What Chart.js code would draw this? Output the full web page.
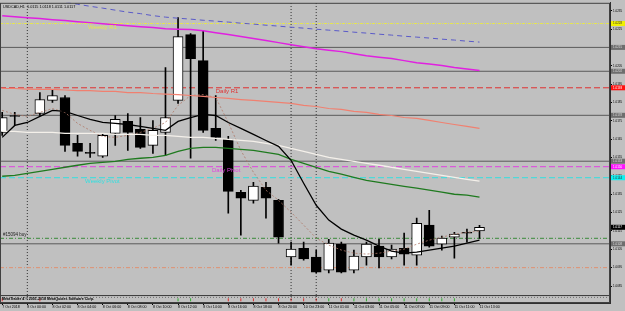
<!DOCTYPE html>
<html>
<head>
<meta charset="utf-8">
<script src="https://cdn.jsdelivr.net/npm/chart.js@4.4.1/dist/chart.umd.min.js"></script>
<style>
	html, body { margin: 0; padding: 0; background: #c0c0c0; overflow: hidden; }
</style>
</head>
<body>
<canvas id="chart" width="625" height="311"></canvas>
<script>
// Hourly bars, index 2 has no bar
const candleIdx = [0, 1, 3, 4, 5, 6, 7, 8, 9, 10, 11, 12, 13, 14, 15, 16, 17, 18, 19, 20, 21, 22, 23, 24, 25, 26, 27, 28, 29, 30, 31, 32, 33, 34, 35, 36, 37, 38];
const opens = [1.01687, 1.01779, 1.01790, 1.01861, 1.01877, 1.01627, 1.01578, 1.01557, 1.01682, 1.01747, 1.01703, 1.01616, 1.01687, 1.01861, 1.02220, 1.02078, 1.01709, 1.01649, 1.01361, 1.01317, 1.01388, 1.01317, 1.01008, 1.01056, 1.01008, 1.00937, 1.01078, 1.00937, 1.01008, 1.01067, 1.01008, 1.01056, 1.01018, 1.01182, 1.01078, 1.01116, 1.01143, 1.0115];
const highs = [1.01796, 1.01796, 1.01904, 1.01921, 1.01888, 1.01671, 1.01627, 1.01676, 1.01779, 1.01790, 1.01768, 1.01752, 1.02040, 1.02312, 1.02225, 1.02241, 1.01888, 1.01665, 1.01372, 1.01415, 1.01415, 1.01323, 1.01089, 1.01089, 1.01046, 1.01105, 1.01089, 1.01046, 1.01089, 1.01105, 1.01073, 1.01138, 1.01220, 1.01263, 1.01122, 1.01143, 1.01160, 1.0118];
const lows = [1.01671, 1.01725, 1.01779, 1.01850, 1.01584, 1.01557, 1.01551, 1.01551, 1.01616, 1.01589, 1.01600, 1.01573, 1.01562, 1.01845, 1.01546, 1.01687, 1.01643, 1.01247, 1.01127, 1.01301, 1.01220, 1.01084, 1.00964, 1.00991, 1.00921, 1.00921, 1.00921, 1.00921, 1.00964, 1.00948, 1.00997, 1.00964, 1.00964, 1.01062, 1.01046, 1.01002, 1.01089, 1.0111];
const closes = [1.01768, 1.01774, 1.01866, 1.01888, 1.01616, 1.01584, 1.01573, 1.01671, 1.01758, 1.01687, 1.01605, 1.01698, 1.01768, 1.02209, 1.02089, 1.01698, 1.01660, 1.01366, 1.01328, 1.01394, 1.01328, 1.01116, 1.01051, 1.00997, 1.00926, 1.01084, 1.00926, 1.01013, 1.01078, 1.01008, 1.01051, 1.01024, 1.01192, 1.01067, 1.01111, 1.01133, 1.01138, 1.0117];

// Indicator lines, one value per bar index 0..38
const maIdx = [0, 1, 2, 3, 4, 5, 6, 7, 8, 9, 10, 11, 12, 13, 14, 15, 16, 17, 18, 19, 20, 21, 22, 23, 24, 25, 26, 27, 28, 29, 30, 31, 32, 33, 34, 35, 36, 37, 38];
const maFast = [1.01660, 1.01725, 1.01741, 1.01774, 1.01807, 1.01801, 1.01779, 1.01758, 1.01741, 1.01736, 1.01730, 1.01720, 1.01709, 1.01698, 1.01747, 1.01768, 1.01785, 1.01779, 1.01741, 1.01709, 1.01676, 1.01643, 1.01611, 1.01535, 1.01410, 1.01290, 1.01209, 1.01160, 1.01127, 1.01100, 1.01067, 1.01040, 1.01029, 1.01035, 1.01046, 1.01056, 1.01067, 1.01084, 1.01100];
const maGreen = [1.01448, 1.01453, 1.01464, 1.01475, 1.01486, 1.01497, 1.01508, 1.01518, 1.01524, 1.01529, 1.01540, 1.01546, 1.01551, 1.01562, 1.01584, 1.01600, 1.01605, 1.01605, 1.01600, 1.01595, 1.01589, 1.01578, 1.01567, 1.01540, 1.01518, 1.01497, 1.01475, 1.01459, 1.01442, 1.01426, 1.01415, 1.01404, 1.01393, 1.01383, 1.01372, 1.01361, 1.01350, 1.01345, 1.01334];
const maWhite = [1.01692, 1.01692, 1.01687, 1.01687, 1.01687, 1.01682, 1.01682, 1.01682, 1.01682, 1.01676, 1.01676, 1.01676, 1.01671, 1.01671, 1.01665, 1.01660, 1.01660, 1.01654, 1.01649, 1.01643, 1.01638, 1.01627, 1.01616, 1.01600, 1.01584, 1.01567, 1.01551, 1.01540, 1.01529, 1.01518, 1.01508, 1.01497, 1.01486, 1.01475, 1.01464, 1.01453, 1.01442, 1.01431, 1.01421];
const maSalmon = [1.01926, 1.01926, 1.01923, 1.01921, 1.01921, 1.01918, 1.01915, 1.01915, 1.01910, 1.01910, 1.01904, 1.01904, 1.01899, 1.01896, 1.01893, 1.01888, 1.01883, 1.01877, 1.01872, 1.01866, 1.01861, 1.01856, 1.01850, 1.01845, 1.01834, 1.01828, 1.01817, 1.01812, 1.01801, 1.01796, 1.01785, 1.01779, 1.01768, 1.01763, 1.01752, 1.01741, 1.01730, 1.01720, 1.01709];
const maMagenta = [1.02323, 1.02317, 1.02312, 1.02307, 1.02301, 1.02296, 1.02290, 1.02285, 1.02279, 1.02274, 1.02268, 1.02263, 1.02258, 1.02252, 1.02249, 1.02247, 1.02241, 1.02230, 1.02220, 1.02209, 1.02198, 1.02187, 1.02176, 1.02165, 1.02154, 1.02143, 1.02135, 1.02127, 1.02116, 1.02105, 1.02097, 1.02089, 1.02078, 1.02067, 1.02059, 1.02051, 1.02040, 1.02032, 1.02024];
const maBlue = [null, null, null, 1.02432, 1.02410, 1.02399, 1.02385, 1.02374, 1.02364, 1.02353, 1.02342, 1.02334, 1.02323, 1.02315, 1.02309, 1.02304, 1.02298, 1.02293, 1.02288, 1.02282, 1.02277, 1.02271, 1.02266, 1.02260, 1.02255, 1.02249, 1.02244, 1.02239, 1.02233, 1.02228, 1.02222, 1.02217, 1.02211, 1.02206, 1.02201, 1.02195, 1.02190, 1.02184, 1.02179];
const maDotted = [1.01807, 1.01785, 1.01774, 1.01796, 1.01817, 1.01796, 1.01736, 1.01698, 1.01665, 1.01660, 1.01671, 1.01687, 1.01709, 1.01741, 1.01834, 1.01888, 1.01893, 1.01877, 1.01741, 1.01589, 1.01470, 1.01372, 1.01317, 1.01252, 1.01182, 1.01111, 1.01073, 1.01046, 1.01029, 1.01024, 1.01029, 1.01040, 1.01051, 1.01078, 1.01100, 1.01116, 1.01133, 1.01143, 1.01149];

// Pivot levels and drawn lines
const pivotNames = ["Weekly R1", "Daily R1", "Daily Pivot", "Weekly Pivot"];
const pivotPrices = [1.0228, 1.0193, 1.0150, 1.0144];
const greyLevels = [1.0215, 1.0202, 1.0178, 1.0153, 1.0108];
const orderLabel = "#15094 buy";
const orderPrice = 1.0111;
const stopPrice = 1.0095;
const lastPrice = 1.0117;

// Axis ticks
const priceTicks = [1.0085, 1.0095, 1.0105, 1.0115, 1.0125, 1.0135, 1.0145, 1.0155, 1.0165, 1.0175, 1.0185, 1.0195, 1.0205, 1.0215, 1.0225, 1.0235];
const timeTickIdx = [0, 2, 4, 6, 8, 10, 12, 14, 16, 18, 20, 22, 24, 26, 28, 30, 32, 34, 36, 38];
const timeTickText = ["7 Oct 2018", "8 Oct 00:00", "8 Oct 02:00", "8 Oct 04:00", "8 Oct 06:00", "8 Oct 08:00", "8 Oct 10:00", "8 Oct 12:00", "8 Oct 14:00", "8 Oct 16:00", "8 Oct 18:00", "8 Oct 20:00", "10 Oct 23:00", "11 Oct 01:00", "11 Oct 03:00", "11 Oct 05:00", "11 Oct 07:00", "11 Oct 09:00", "11 Oct 11:00", "11 Oct 13:00"];
const daySepIdx = [2, 23, 25];

// Lower indicator window marks
const subDownIdx = [0, 3, 18, 19, 20, 21, 22, 23, 24, 25, 27];
const subUpIdx = [14, 15, 26, 28, 29, 30, 31, 32, 33, 34, 35, 36];

const titleText = "USDCAD,H1  1.0115 1.0118 1.0111 1.0117";
const copyText = "MetaTrader 4 \u00a9 2001-2018 MetaQuotes Software Corp.";

const X_MIN = -0.175, X_MAX = 48.39;
const Y_MIN = 1.00801, Y_MAX = 1.02393;
const FONT = "Liberation Sans";

function line(vals, color, width, dash, order) {
	return {
		type: "line",
		data: maIdx.map((x, k) => ({ x: x, y: vals[k] })),
		borderColor: color,
		borderWidth: width,
		borderDash: dash,
		pointRadius: 0,
		tension: 0,
		order: order,
	};
}

function hline(price, color, width, dash, order) {
	return {
		type: "line",
		data: [{ x: X_MIN, y: price }, { x: X_MAX, y: price }],
		borderColor: color,
		borderWidth: width,
		borderDash: dash,
		pointRadius: 0,
		order: order,
	};
}

function sepData(lo, hi) {
	let d = [];
	daySepIdx.forEach((x) => {
		d.push({ x: x, y: lo }, { x: x, y: hi }, { x: x, y: null });
	});
	return d;
}

const pivotColors = ["#e6e650", "#e03030", "#e040e0", "#30e0e0"];
const pivotDash = [[3, 1, 1, 1], [6, 3], [6, 3], [6, 3]];

const datasets = [];
// Moving averages on top
datasets.push(line(maFast, "#000000", 1.3, [], 1));
datasets.push(line(maGreen, "#1f7a1f", 1.3, [], 2));
datasets.push(line(maWhite, "#f4f0ea", 1.3, [], 3));
datasets.push(line(maSalmon, "#f08070", 1.2, [], 4));
datasets.push(line(maMagenta, "#e020e0", 1.5, [], 5));
datasets.push(line(maBlue, "#5a5ac8", 1, [5, 4], 6));
datasets.push(line(maDotted, "#b07868", 0.8, [2, 2], 7));

// Candles
datasets.push({
	type: "bar",
	data: candleIdx.map((x, k) => ({ x: x, y: [opens[k], closes[k]] })),
	backgroundColor: candleIdx.map((x, k) => (closes[k] >= opens[k] ? "#ffffff" : "#000000")),
	borderColor: "#000000",
	borderWidth: 1,
	borderSkipped: false,
	barThickness: 10,
	grouped: false,
	order: 10,
});
datasets.push({
	type: "bar",
	data: candleIdx.map((x, k) => ({ x: x, y: [lows[k], highs[k]] })),
	backgroundColor: "#000000",
	borderWidth: 0,
	barThickness: 1,
	grouped: false,
	order: 11,
});

// Levels
greyLevels.forEach((p) => datasets.push(hline(p, "#5a5a5a", 1, [], 20)));
pivotPrices.forEach((p, k) => datasets.push(hline(p, pivotColors[k], 1, pivotDash[k], 21)));
datasets.push(hline(orderPrice, "#3a8a3a", 1, [4, 2, 1, 2], 22));
datasets.push(hline(stopPrice, "#e09070", 1, [4, 2, 1, 2], 22));

// Day separators
datasets.push({
	type: "line",
	data: sepData(Y_MIN, Y_MAX),
	borderColor: "#303030",
	borderWidth: 1,
	borderDash: [1, 2],
	pointRadius: 0,
	spanGaps: false,
	order: 30,
});
datasets.push({
	type: "line",
	yAxisID: "y2",
	data: sepData(0, 1),
	borderColor: "#303030",
	borderWidth: 1,
	borderDash: [1, 2],
	pointRadius: 0,
	spanGaps: false,
	order: 30,
});

// Lower window
datasets.push({
	type: "line",
	yAxisID: "y2",
	data: [{ x: X_MIN, y: 0.7 }, { x: X_MAX, y: 0.7 }],
	borderColor: "#707070",
	borderWidth: 1,
	borderDash: [1, 2],
	pointRadius: 0,
	order: 31,
});
datasets.push({
	type: "line",
	yAxisID: "y2",
	showLine: false,
	data: subDownIdx.map((x) => ({ x: x, y: 0.4 })),
	pointStyle: "line",
	rotation: 90,
	pointRadius: 1.5,
	borderColor: "#e03030",
	borderWidth: 1,
	order: 32,
});
datasets.push({
	type: "line",
	yAxisID: "y2",
	showLine: false,
	data: subUpIdx.map((x) => ({ x: x, y: 0.4 })),
	pointStyle: "line",
	rotation: 90,
	pointRadius: 1.5,
	borderColor: "#30b030",
	borderWidth: 1,
	order: 32,
});

// Texts and price badges
const overlay = {
	id: "overlay",
	afterDatasetsDraw(chart) {
		const ctx = chart.ctx;
		const xs = chart.scales.x;
		const ys = chart.scales.y;
		const y2 = chart.scales.y2;
		ctx.save();
		// panel frames
		ctx.strokeStyle = "#404040";
		ctx.lineWidth = 1;
		ctx.strokeRect(xs.left + 0.5, ys.top + 0.5, xs.right - xs.left - 1, ys.bottom - ys.top);
		ctx.strokeRect(xs.left + 0.5, y2.top + 0.5, xs.right - xs.left - 1, y2.bottom - y2.top - 1);

		ctx.textBaseline = "top";
		ctx.textAlign = "left";
		const spots = [6.83, 17.0, 16.7, 6.6];
		pivotNames.forEach((name, k) => {
			ctx.font = "6px " + FONT;
			ctx.fillStyle = pivotColors[k];
			ctx.fillText(name, xs.getPixelForValue(spots[k]), ys.getPixelForValue(pivotPrices[k]) + 1);
		});
		ctx.font = "4.5px " + FONT;
		ctx.fillStyle = "#202020";
		ctx.textBaseline = "bottom";
		ctx.fillText(orderLabel, xs.left + 3, ys.getPixelForValue(orderPrice) - 1);

		ctx.textBaseline = "top";
		ctx.font = "3.8px " + FONT;
		ctx.fillStyle = "#000000";
		ctx.fillText(titleText, xs.left + 3, ys.top + 2);
		ctx.font = "bold 3.6px " + FONT;
		ctx.fillText(copyText, xs.left + 2, y2.top + 2);
		ctx.restore();
	},
	afterDraw(chart) {
		const ctx = chart.ctx;
		const ys = chart.scales.y;
		const left = ys.left + 1;
		ctx.save();
		ctx.font = "3px " + FONT;
		ctx.textBaseline = "middle";
		ctx.textAlign = "left";
		const badge = (p, bg, fg) => {
			const py = ys.getPixelForValue(p);
			ctx.fillStyle = bg;
			ctx.fillRect(left, py - 2.5, 625 - left, 5);
			ctx.fillStyle = fg;
			ctx.fillText(p.toFixed(4), left + 2, py);
		};
		greyLevels.forEach((p) => badge(p, "#6e6e6e", "#dddddd"));
		badge(pivotPrices[0], "#f0f000", "#303030");
		badge(pivotPrices[1], "#ff1010", "#ffffff");
		badge(pivotPrices[2], "#ff10ff", "#ffffff");
		badge(pivotPrices[3], "#10f0f0", "#303030");
		badge(lastPrice, "#000000", "#ffffff");
		ctx.restore();
	},
};

new Chart(document.getElementById("chart"), {
	type: "bar",
	data: { datasets: datasets },
	plugins: [overlay],
	options: {
		responsive: false,
		animation: false,
		devicePixelRatio: 1,
		events: [],
		layout: { autoPadding: false, padding: { top: 2, left: 0, right: 0, bottom: 0 } },
		plugins: { legend: { display: false }, tooltip: { enabled: false } },
		scales: {
			x: {
				type: "linear",
				min: X_MIN,
				max: X_MAX,
				offset: false,
				afterBuildTicks: (scale) => {
					scale.ticks = timeTickIdx.map((v) => ({ value: v }));
				},
				afterFit: (scale) => {
					scale.height = 8;
					scale.paddingLeft = 0;
					scale.paddingRight = 0;
				},
				ticks: {
					autoSkip: false,
					maxRotation: 0,
					minRotation: 0,
					align: "start",
					padding: 0,
					color: "#000000",
					font: { family: FONT, size: 3.6 },
					callback: (v) => timeTickText[timeTickIdx.indexOf(v)],
				},
				grid: { drawOnChartArea: false, offset: false, tickLength: 2, color: "#000000" },
				border: { display: true, color: "#303030" },
			},
			y: {
				type: "linear",
				position: "right",
				stack: "panes",
				stackWeight: 293,
				min: Y_MIN,
				max: Y_MAX,
				afterBuildTicks: (scale) => {
					scale.ticks = priceTicks.map((v) => ({ value: v }));
				},
				afterFit: (scale) => {
					scale.width = 15;
				},
				ticks: {
					padding: 1,
					color: "#000000",
					font: { family: FONT, size: 3 },
					callback: (v) => v.toFixed(4),
				},
				grid: { drawOnChartArea: false, tickLength: 2, color: "#000000" },
				border: { display: true, color: "#303030" },
			},
			y2: {
				type: "linear",
				position: "right",
				stack: "panes",
				stackWeight: 8,
				min: 0,
				max: 1,
				afterFit: (scale) => {
					scale.width = 15;
				},
				ticks: { display: false },
				grid: { display: false },
				border: { display: true, color: "#303030" },
			},
		},
	},
});
</script>
</body>
</html>
